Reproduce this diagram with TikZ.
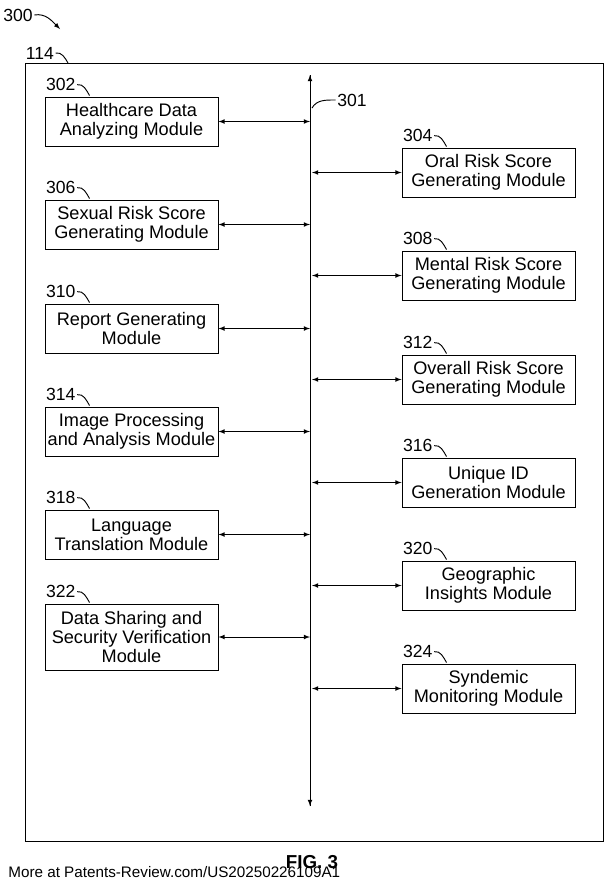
\documentclass[tikz,border=0pt]{standalone}
\usepackage{fontspec}
\setmainfont{Liberation Sans}
\usetikzlibrary{calc}
\usetikzlibrary{positioning}
\tikzstyle{module}=[%
  draw,
  line width=0.8pt,
  minimum height=1.47cm,
  minimum width=5.19cm,
  inner sep=1pt,
  align=center,
  font=\fontsize{15.5}{16.5}\selectfont
]
\tikzstyle{refnum}=[font=\fontsize{15}{16}\selectfont, inner sep=1pt]

\begin{document}
\begin{tikzpicture}[x=0.03cm, y=-0.03cm, line width=0.8pt]
    \useasboundingbox (0,0) rectangle (610,888);
    \draw (25,63) rectangle (603,841);

    % bus
    \coordinate (top) at (310,75);
    \coordinate (bot) at (310,806);
    \draw[-latex] (bot) -- (top);
    \draw[-latex] (top) -- (bot);

    % left column
    \node[module] (m302) at (131.5,121.5) {Healthcare Data\\Analyzing Module};
    \node[module] (m306) at (131.5,224.5) {Sexual Risk Score\\Generating Module};
    \node[module] (m310) at (131.5,328.5) {Report Generating\\Module};
    \node[module] (m314) at (131.5,431.5) {Image Processing\\and Analysis Module};
    \node[module] (m318) at (131.5,534.5) {Language\\Translation Module};
    \node[module, minimum height=1.98cm] (m322) at (131.5,637) {Data Sharing and\\Security Verification\\Module};

    % right column
    \node[module] (m304) at (488.5,172.5) {Oral Risk Score\\Generating Module};
    \node[module] (m308) at (488.5,275.5) {Mental Risk Score\\Generating Module};
    \node[module] (m312) at (488.5,379.5) {Overall Risk Score\\Generating Module};
    \node[module] (m316) at (488.5,482.5) {Unique ID\\Generation Module};
    \node[module] (m320) at (488.5,585.5) {Geographic\\Insights Module};
    \node[module] (m324) at (488.5,688.5) {Syndemic\\Monitoring Module};

    \foreach \m in {302,306,310,314,318,322} {%
      \coordinate (b\m) at (310, 0 |- m\m.east);
      \draw[latex-latex] (m\m.east) -- (b\m);
      \node[refnum, anchor=south west] (l\m) at ($(m\m.north west)+(0,-4)$) {\m};
      \draw (l\m.east) to[out=10, in=120] ($(m\m.north west)+(45,-1)$);
    }
    \foreach \m in {304,308,312,316,320,324} {%
      \coordinate (b\m) at (312, 0 |- m\m.west);
      \draw[latex-latex] (b\m) -- (m\m.west);
      \node[refnum, anchor=south west] (l\m) at ($(m\m.north west)+(0,-4)$) {\m};
      \draw (l\m.east) to[out=10, in=120] ($(m\m.north west)+(45,-1)$);
    }

    % reference labels
    \node[refnum] (l301) at (352,100) {301};
    \coordinate (h301) at (312,108);
    \draw (l301.west) to[out=180, in=60] (h301);
    \node[refnum] (l114) at (40,53) {114};
    \draw (l114.east) to[out=10, in=120] (68,63);
    \node[refnum] (l300) at (18,15) {300};
    \coordinate (a300) at (60,29);
    \draw[-latex] (l300.east) to[out=10, in=135] (a300);

    \node[font=\bfseries\fontsize{16}{17}\selectfont] (fig) at (312,862) {FIG. 3};
    \node[font=\fontsize{13}{14}\selectfont, anchor=west] (wm) at (4,872) {More at Patents-Review.com/US20250226109A1};
\end{tikzpicture}
\end{document}
